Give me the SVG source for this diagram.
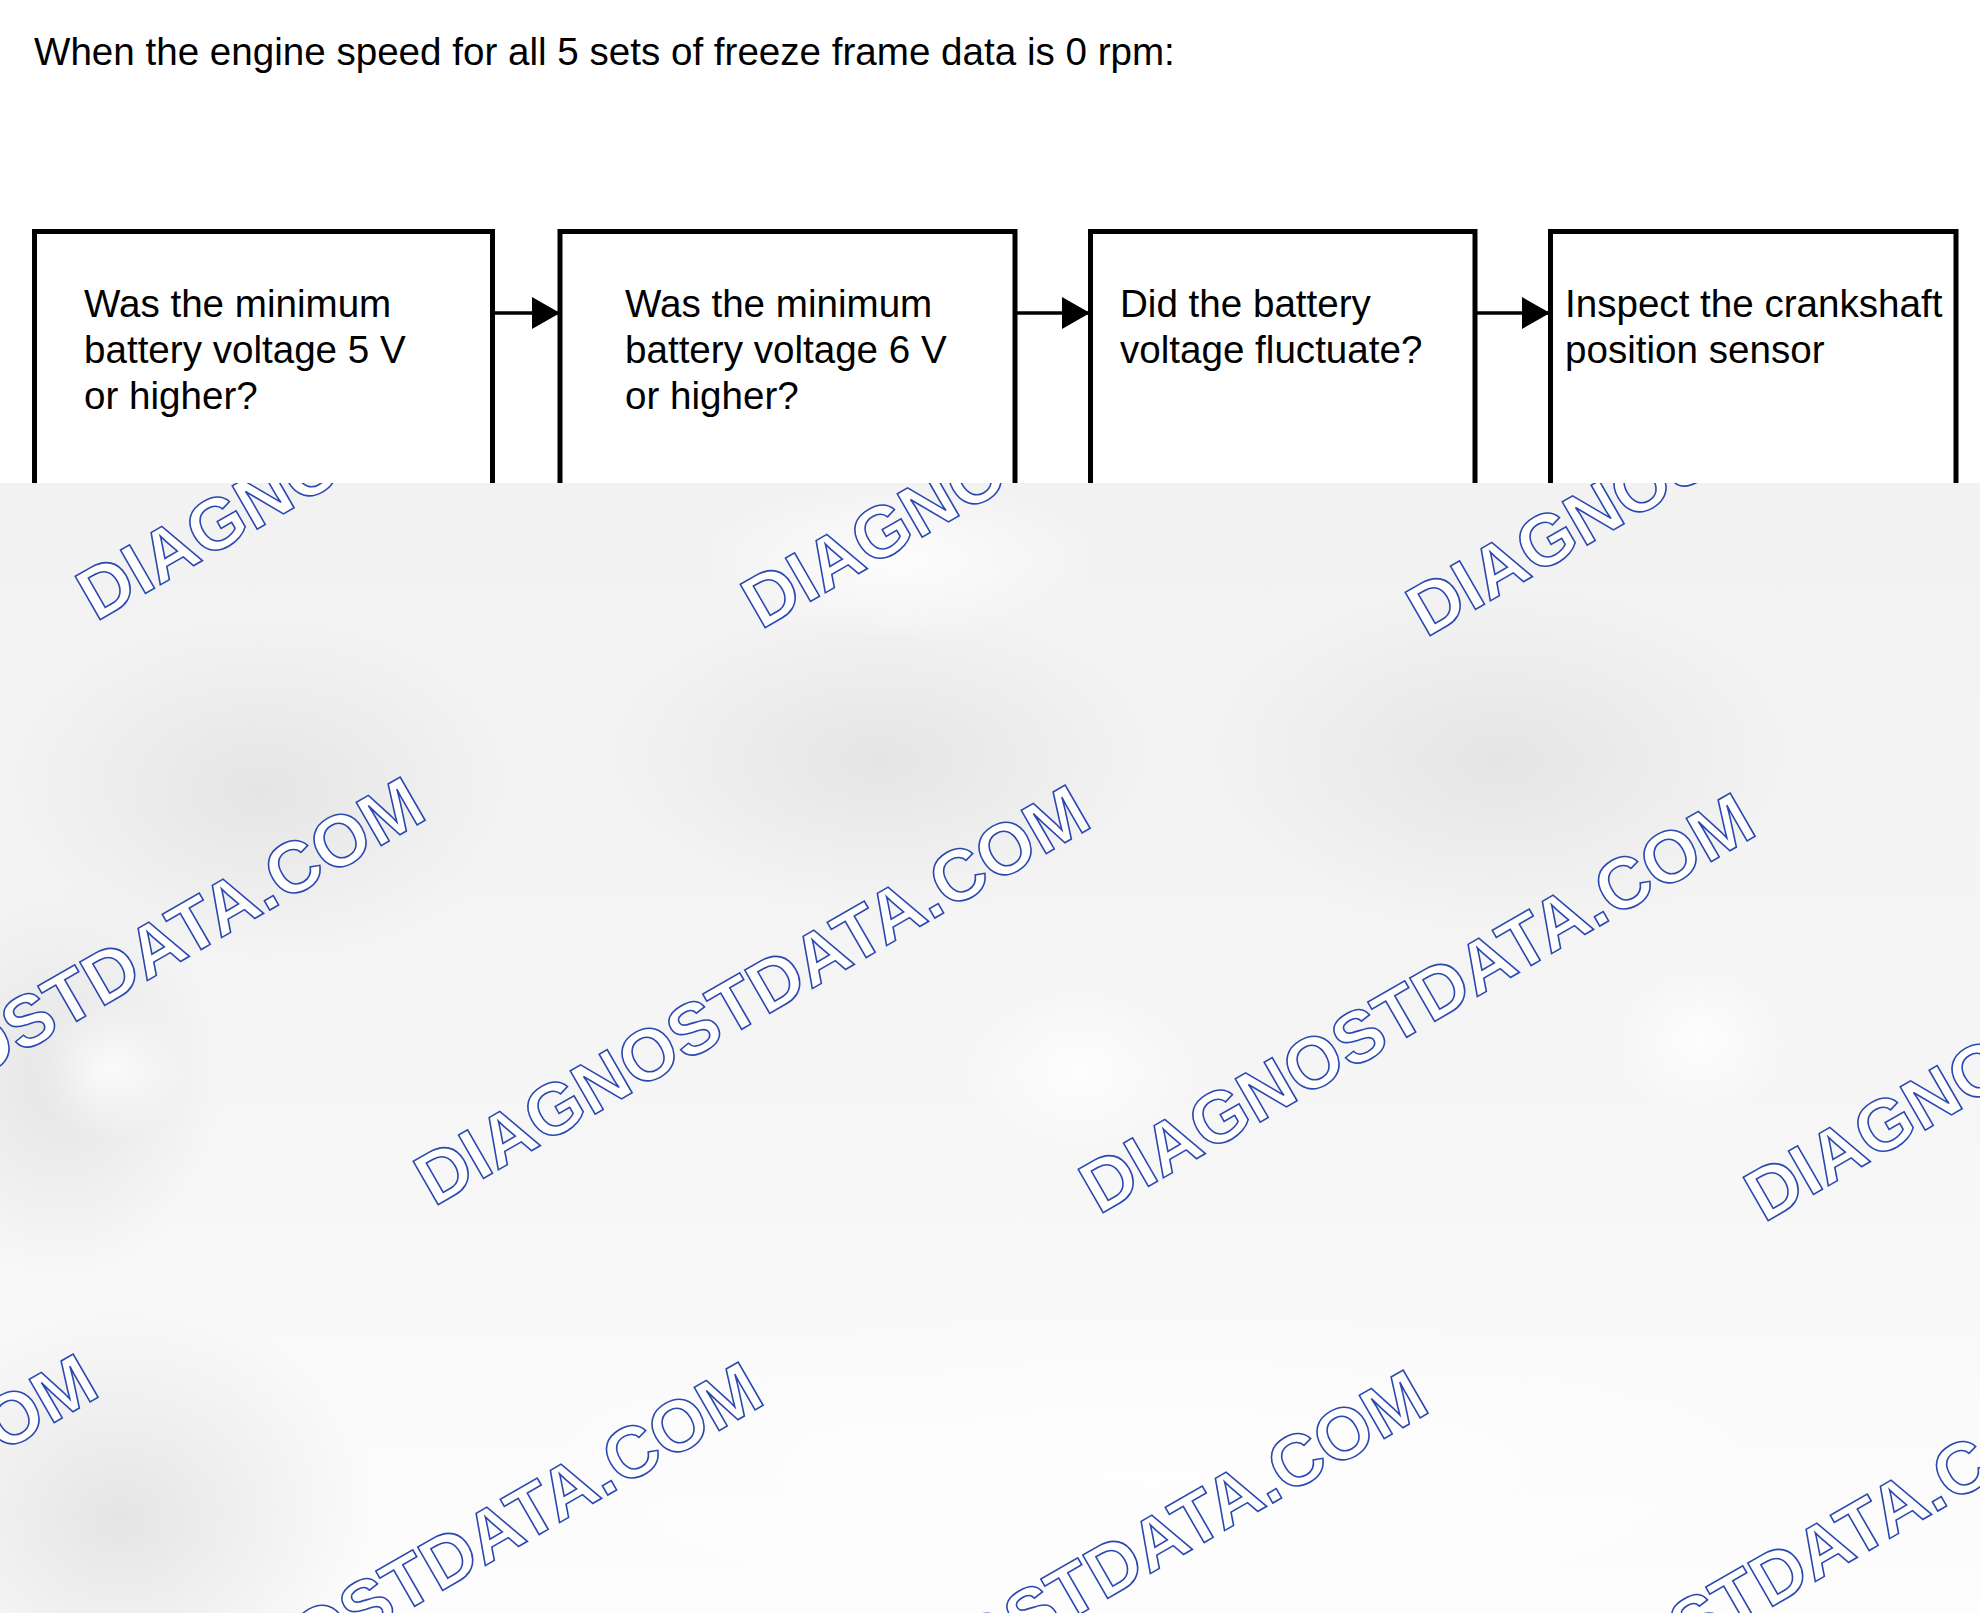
<svg xmlns="http://www.w3.org/2000/svg" width="1980" height="1613" viewBox="0 0 1980 1613">
<style>
.t{font-family:"Liberation Sans",Arial,sans-serif;font-size:38.6px;fill:#000}
.box{fill:#fff;stroke:#000;stroke-width:5}
.con{stroke:#000;stroke-width:3.5;fill:none}
.wm{font-family:"Liberation Sans",Arial,sans-serif;font-weight:bold;font-size:72.5px;fill:#fff;stroke:#2a48b0;stroke-width:1.6}
</style>
<defs>
<marker id="ah" markerUnits="userSpaceOnUse" markerWidth="28" markerHeight="32" refX="28" refY="16" orient="auto">
<path d="M0,0 L28,16 L0,32 Z" fill="#000"/>
</marker>
<linearGradient id="bg" x1="0" y1="0" x2="0" y2="1">
<stop offset="0" stop-color="#f2f2f2"/>
<stop offset="0.5" stop-color="#f5f5f5"/>
<stop offset="1" stop-color="#fdfdfd"/>
</linearGradient>
<radialGradient id="blob">
<stop offset="0" stop-color="#e5e5e5"/>
<stop offset="1" stop-color="#e5e5e5" stop-opacity="0"/>
</radialGradient>
<radialGradient id="wblob">
<stop offset="0" stop-color="#ffffff" stop-opacity="0.8"/>
<stop offset="1" stop-color="#ffffff" stop-opacity="0"/>
</radialGradient>
<clipPath id="ov"><rect x="0" y="483" width="1980" height="1130"/></clipPath>
</defs>
<rect width="1980" height="1613" fill="#fff"/>
<text class="t" x="34" y="65">When the engine speed for all 5 sets of freeze frame data is 0 rpm:</text>
<g id="connectors">
<line class="con" x1="495" y1="313" x2="560" y2="313" marker-end="url(#ah)"/>
<line class="con" x1="1017" y1="313" x2="1090" y2="313" marker-end="url(#ah)"/>
<line class="con" x1="1477" y1="313" x2="1550" y2="313" marker-end="url(#ah)"/>
</g>
<g id="n1">
<rect class="box" x="34.5" y="231.5" width="458" height="400"/>
<text class="t" x="84" y="317">Was the minimum</text>
<text class="t" x="84" y="363">battery voltage 5 V</text>
<text class="t" x="84" y="409">or higher?</text>
</g>
<g id="n2">
<rect class="box" x="560" y="231.5" width="455" height="400"/>
<text class="t" x="625" y="317">Was the minimum</text>
<text class="t" x="625" y="363">battery voltage 6 V</text>
<text class="t" x="625" y="409">or higher?</text>
</g>
<g id="n3">
<rect class="box" x="1090.5" y="231.5" width="384.5" height="400"/>
<text class="t" x="1120" y="317">Did the battery</text>
<text class="t" x="1120" y="363">voltage fluctuate?</text>
</g>
<g id="n4">
<rect class="box" x="1550.5" y="231.5" width="405.5" height="400"/>
<text class="t" x="1565" y="317">Inspect the crankshaft</text>
<text class="t" x="1565" y="363">position sensor</text>
</g>
<g clip-path="url(#ov)">
<rect x="0" y="483" width="1980" height="1130" fill="url(#bg)"/>
<ellipse cx="260" cy="790" rx="260" ry="170" fill="url(#blob)"/>
<ellipse cx="880" cy="760" rx="280" ry="150" fill="url(#blob)"/>
<ellipse cx="1500" cy="760" rx="300" ry="170" fill="url(#blob)"/>
<ellipse cx="120" cy="1520" rx="260" ry="220" fill="url(#blob)"/>
<ellipse cx="60" cy="1080" rx="160" ry="200" fill="url(#blob)"/>
<ellipse cx="1150" cy="1470" rx="700" ry="170" fill="url(#wblob)"/>
<ellipse cx="1080" cy="1070" rx="120" ry="90" fill="url(#wblob)"/>
<ellipse cx="1700" cy="1040" rx="90" ry="80" fill="url(#wblob)"/>
<ellipse cx="110" cy="1070" rx="80" ry="70" fill="url(#wblob)"/>
<ellipse cx="900" cy="560" rx="200" ry="80" fill="url(#wblob)"/>
<text class="wm" transform="translate(96,622) rotate(-30)">DIAGNOSTDATA.COM</text>
<text class="wm" transform="translate(761,630) rotate(-30)">DIAGNOSTDATA.COM</text>
<text class="wm" transform="translate(1426,638) rotate(-30)">DIAGNOSTDATA.COM</text>
<text class="wm" transform="translate(-231,1199) rotate(-30)">DIAGNOSTDATA.COM</text>
<text class="wm" transform="translate(434,1207) rotate(-30)">DIAGNOSTDATA.COM</text>
<text class="wm" transform="translate(1099,1215) rotate(-30)">DIAGNOSTDATA.COM</text>
<text class="wm" transform="translate(1764,1223) rotate(-30)">DIAGNOSTDATA.COM</text>
<text class="wm" transform="translate(-558,1776) rotate(-30)">DIAGNOSTDATA.COM</text>
<text class="wm" transform="translate(107,1784) rotate(-30)">DIAGNOSTDATA.COM</text>
<text class="wm" transform="translate(772,1792) rotate(-30)">DIAGNOSTDATA.COM</text>
<text class="wm" transform="translate(1437,1800) rotate(-30)">DIAGNOSTDATA.COM</text>
</g>
</svg>
